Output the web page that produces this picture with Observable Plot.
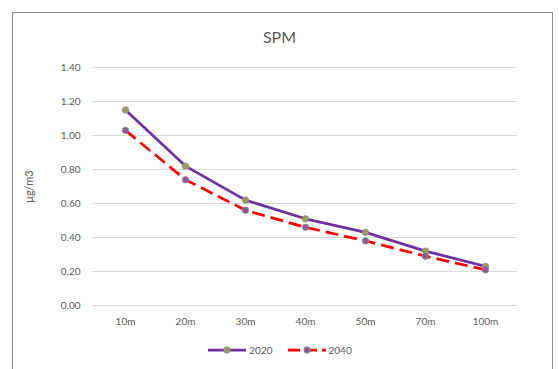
<!DOCTYPE html>
<html>
<head>
<meta charset="utf-8">
<script src="https://cdn.jsdelivr.net/npm/d3@7"></script>
<script src="https://cdn.jsdelivr.net/npm/@observablehq/plot@0.6"></script>
<style>
  html, body { margin: 0; padding: 0; background: #fff; }
  #wrap { position: relative; width: 559px; height: 369px; overflow: hidden; font-family: Lato, "Open Sans", sans-serif; }
  #frame { position: absolute; left: 12px; top: 12px; width: 541px; height: 362px; border: 1px solid #8c8c8c; box-sizing: border-box; }
  #title { position: absolute; left: 0; width: 559px; top: 27px; text-align: center; font-size: 16px; color: #595959; }
  #chart { position: absolute; left: 0; top: 50px; }
  #legend { position: absolute; left: 0; width: 559px; top: 344px; display: flex; justify-content: center; gap: 14px; font-size: 10px; color: #595959; align-items: center; }
  #legend .item { display: flex; align-items: center; gap: 2px; }
</style>
</head>
<body>
<div id="wrap">
  <div id="frame"></div>
  <div id="title">SPM</div>
  <div id="chart"></div>
  <div id="legend"></div>
</div>
<script>
const categories = ["10m", "20m", "30m", "40m", "50m", "70m", "100m"];
const values2020 = [1.15, 0.82, 0.62, 0.51, 0.43, 0.32, 0.23];
const values2040 = [1.03, 0.74, 0.56, 0.46, 0.38, 0.29, 0.21];
const seriesNames = ["2020", "2040"];
const yTicks = [0, 0.2, 0.4, 0.6, 0.8, 1.0, 1.2, 1.4];
const yLabel = "μg/m3";

const lineColors = {"2020": "#7030a0", "2040": "#ff0000"};
const markerFill = {"2020": "#9c9a58", "2040": "#8c5a96"};
const dash = {"2020": null, "2040": "13,6"};

const series = {"2020": values2020, "2040": values2040};
const data = seriesNames.flatMap(s => categories.map((c, i) => ({series: s, cat: c, value: series[s][i]})));

const marks = [
  Plot.ruleY(yTicks, {stroke: "#d9d9d9", strokeWidth: 1}),
  Plot.axisY({ticks: yTicks, tickFormat: d => d.toFixed(2), tickSize: 0, tickPadding: 12,
    label: null, fill: "#595959", fontSize: 10}),
  Plot.axisY({ticks: [], tickSize: 0, label: yLabel, labelAnchor: "center", labelArrow: "none",
    labelOffset: 67, fill: "#595959", fontSize: 11}),
  Plot.axisX({tickSize: 0, tickPadding: 12, label: null, fill: "#595959", fontSize: 10})
];
for (const s of seriesNames) {
  const d = data.filter(r => r.series === s);
  marks.push(Plot.line(d, {x: "cat", y: "value", stroke: lineColors[s], strokeWidth: 2.75,
    strokeDasharray: dash[s], strokeLinecap: "butt"}));
}
for (const s of seriesNames) {
  const d = data.filter(r => r.series === s);
  marks.push(Plot.dot(d, {x: "cat", y: "value", r: 3.2, fill: markerFill[s], stroke: "#8a8a8a", strokeWidth: 0.8}));
}

const chart = Plot.plot({
  width: 559,
  height: 280,
  marginLeft: 92,
  marginRight: 42,
  marginTop: 17,
  marginBottom: 25,
  style: {fontFamily: "Lato, 'Open Sans', sans-serif", background: "transparent"},
  x: {type: "point", domain: categories, padding: 0.5},
  y: {domain: [0, 1.4]},
  marks
});
document.getElementById("chart").appendChild(chart);

const legend = document.getElementById("legend");
for (const s of seriesNames) {
  const item = document.createElement("div");
  item.className = "item";
  const dashAttr = dash[s] ? `stroke-dasharray="12,5"` : "";
  item.innerHTML = `<svg width="40" height="10"><line x1="1" y1="5" x2="39" y2="5" stroke="${lineColors[s]}" stroke-width="2.75" ${dashAttr}/><circle cx="20" cy="5" r="3.2" fill="${markerFill[s]}" stroke="#8a8a8a" stroke-width="0.8"/></svg><span>${s}</span>`;
  legend.appendChild(item);
}
</script>
</body>
</html>
